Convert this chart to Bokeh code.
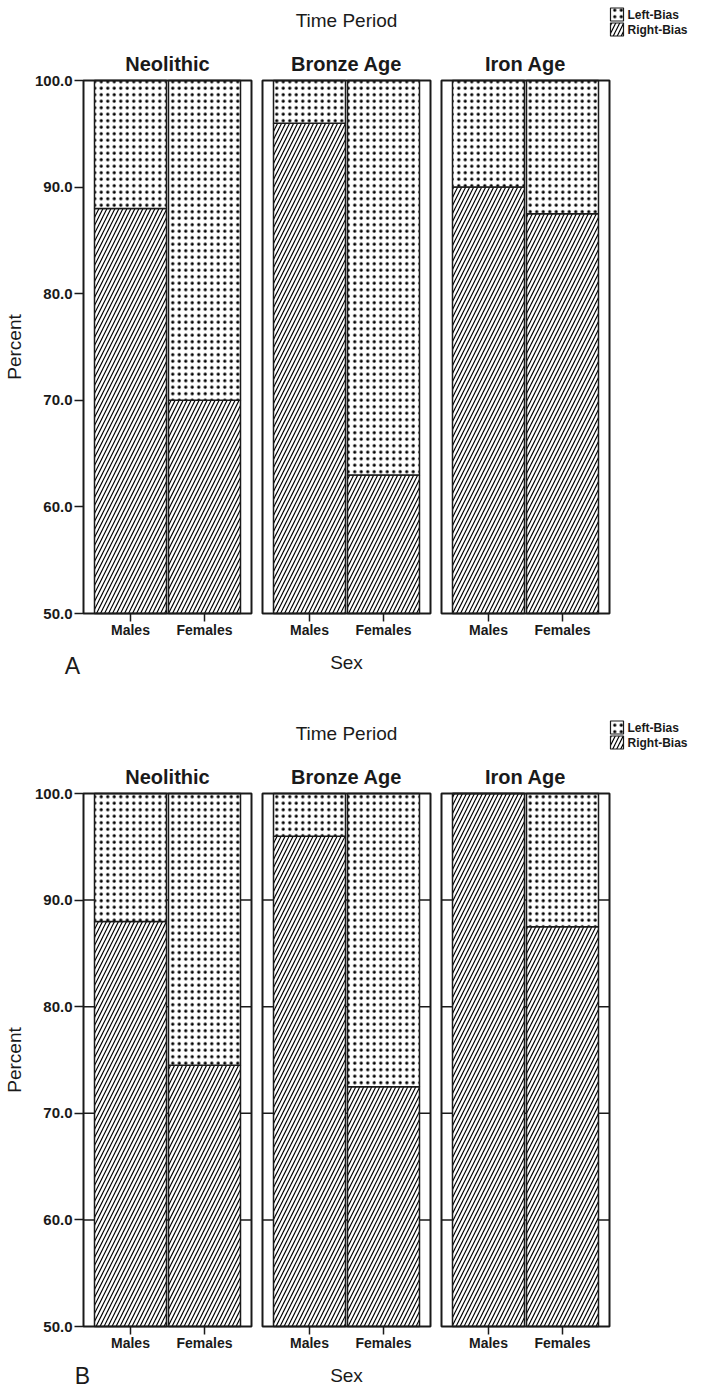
import math
from bokeh.plotting import figure
from bokeh.models import Range1d, FixedTicker, NumeralTickFormatter, LinearAxis
from bokeh.core.properties import value
from bokeh.embed import file_html
from bokeh.resources import INLINE

# ---------------- data ----------------
periods = ["Neolithic", "Bronze Age", "Iron Age"]
sexes = ["Males", "Females"]
# percent Right-Bias, ordered (period, sex)
right_bias_A = [88.0, 70.0, 96.0, 63.0, 90.0, 87.5]
right_bias_B = [88.0, 74.5, 96.0, 72.5, 100.0, 87.5]
y_ticks = [50, 60, 70, 80, 90, 100]
grid_values_B = [60, 70, 80, 90]
legend_labels = ["Left-Bias", "Right-Bias"]
panel_letters = ["A", "B"]

# ---------------- layout constants (page pixels) ----------------
W, H = 700, 1390
FACET_W = 168
GAP = 11
FIRST_LEFT = 83
BAR_W = 72
BAR_OFF = [47, 121]
PANEL_TOP = [80, 793]       # page y of 100 %
FRAME_H = 533               # pixels for 50 %
FONT = "Liberation Sans"
INK = "#1a1a1a"

facet_left = [FIRST_LEFT + i * (FACET_W + GAP) for i in range(len(periods))]
facet_right = [l + FACET_W for l in facet_left]
facet_center = [l + FACET_W / 2 for l in facet_left]
mid_x = (facet_left[0] + facet_right[-1]) / 2

HATCH_R = dict(hatch_pattern="right_diagonal_line", hatch_color="black",
               hatch_scale=8, hatch_weight=1.2)
HATCH_L = dict(hatch_pattern="dot", hatch_color="black",
               hatch_scale=6.5, hatch_weight=0.9)

# default ranges are page pixels (y downwards); each panel gets its own percent range
p = figure(width=W, height=H, output_backend="svg", toolbar_location=None,
           x_range=Range1d(0, W), y_range=Range1d(H, 0),
           x_axis_location=None, y_axis_location=None, min_border=0)
p.min_border_left = p.min_border_right = p.min_border_top = p.min_border_bottom = 0
p.grid.visible = False
p.outline_line_color = None
p.background_fill_color = "white"

S = FRAME_H / 50.0
for k, top in enumerate(PANEL_TOP):
    name = "pct" + panel_letters[k]
    p.extra_y_ranges[name] = Range1d(start=100 - (H - top) / S, end=100 + top / S)


def put_text(x, y, txt, size, bold=False, align="center", angle=0.0):
    p.text(x=[x], y=[y], text=[txt], text_font=value(FONT), text_font_size=size,
           text_font_style="bold" if bold else "normal", text_align=align,
           text_baseline="middle", text_color=INK, angle=angle)


def draw_panel(k, right_vals, grid_vals, letter_x, letter_dy):
    rn = "pct" + panel_letters[k]
    top = PANEL_TOP[k]
    bottom_page = top + FRAME_H

    for v in grid_vals:
        p.segment(x0=facet_left, x1=facet_right, y0=[v] * 3, y1=[v] * 3,
                  line_color=INK, line_width=1.5, y_range_name=rn)

    xs, rights = [], []
    n = 0
    for i, per in enumerate(periods):
        for j, sx in enumerate(sexes):
            xs.append(facet_left[i] + BAR_OFF[j])
            rights.append(right_vals[n])
            n += 1
    left_vals = [100 - r for r in rights]
    tops = [r + l for r, l in zip(rights, left_vals)]
    base = y_ticks[0]

    p.vbar(x=xs, width=BAR_W, bottom=base, top=rights, fill_color="white",
           line_color=INK, line_width=1.5, y_range_name=rn, **HATCH_R)
    p.vbar(x=xs, width=BAR_W, bottom=rights, top=tops, fill_color="white",
           line_color=INK, line_width=1.5, y_range_name=rn, **HATCH_L)

    p.quad(left=facet_left, right=facet_right, bottom=[y_ticks[0]] * 3,
           top=[y_ticks[-1]] * 3, fill_color=None, line_color=INK, line_width=2,
           y_range_name=rn)

    yax = LinearAxis(y_range_name=rn, fixed_location=facet_left[0])
    yax.ticker = FixedTicker(ticks=y_ticks)
    yax.formatter = NumeralTickFormatter(format="0.0")
    yax.axis_line_color = None
    yax.major_tick_out = 9
    yax.major_tick_in = 0
    yax.minor_tick_line_color = None
    yax.major_tick_line_width = 1.5
    yax.major_tick_line_color = INK
    yax.major_label_text_font = FONT
    yax.major_label_text_font_style = "bold"
    yax.major_label_text_font_size = "15px"
    yax.major_label_text_color = INK
    yax.major_label_standoff = 2
    p.add_layout(yax, "left")

    xax = LinearAxis(fixed_location=bottom_page)
    xax.ticker = FixedTicker(ticks=xs)
    xax.major_label_overrides = {x: sexes[m % 2] for m, x in enumerate(xs)}
    xax.axis_line_color = None
    xax.major_tick_out = 8
    xax.major_tick_in = 0
    xax.minor_tick_line_color = None
    xax.major_tick_line_width = 1.5
    xax.major_tick_line_color = INK
    xax.major_label_text_font = FONT
    xax.major_label_text_font_style = "bold"
    xax.major_label_text_font_size = "14px"
    xax.major_label_text_color = INK
    xax.major_label_standoff = 0
    p.add_layout(xax, "below")

    # texts
    put_text(mid_x, top - 60, "Time Period", "19px")
    for i, per in enumerate(periods):
        put_text(facet_center[i], top - 17, per, "20px", bold=True)
    rows = [top - 66, top - 51]
    styles = [HATCH_L, HATCH_R]
    for m, lab in enumerate(legend_labels):
        yc = rows[m]
        p.quad(left=[610], right=[623], top=[yc - 6.5], bottom=[yc + 6.5],
               fill_color="white", line_color=INK, line_width=1.2, **styles[m])
        put_text(627, yc, lab, "12px", bold=True, align="left")
    put_text(14, top + FRAME_H / 2, "Percent", "19px", angle=math.pi / 2)
    put_text(mid_x, bottom_page + 49, "Sex", "19px")
    put_text(letter_x, bottom_page + letter_dy, panel_letters[k], "23px")


draw_panel(0, right_bias_A, [], 72, 52)
draw_panel(1, right_bias_B, grid_values_B, 82, 49)

open("out.html", "w").write(file_html(p, INLINE))
